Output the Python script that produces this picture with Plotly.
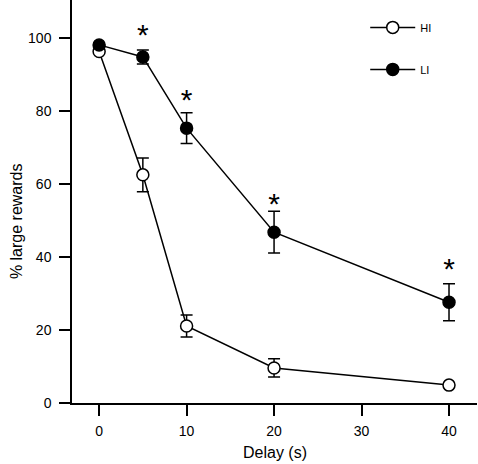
import plotly.graph_objects as go

delay = [0, 5, 10, 20, 40]
hi_vals = [96.3, 62.5, 21.1, 9.6, 4.9]
hi_err = [0, 4.6, 3.0, 2.5, 0]
li_vals = [98.1, 94.8, 75.3, 46.8, 27.6]
li_err = [0, 1.9, 4.2, 5.7, 5.1]
star_x = [5, 10, 20, 40]
star_y = [100.0, 82.2, 53.8, 35.9]
x_ticks = [0, 10, 20, 30, 40]
y_ticks = [0, 20, 40, 60, 80, 100]
x_title = "Delay (s)"
y_title = "% large rewards"

FONT = "Liberation Sans, Arial, Helvetica, sans-serif"


def f(size):
    return dict(family=FONT, size=size, color="black")


fig = go.Figure()
fig.add_trace(go.Scatter(
    x=delay, y=hi_vals, name="HI", mode="lines+markers",
    line=dict(color="black", width=1.5),
    marker=dict(symbol="circle", size=12, color="white", line=dict(color="black", width=1.5)),
    error_y=dict(type="data", array=hi_err, visible=True, color="black", thickness=1.5, width=6),
    legendgroup="a",
))
fig.add_trace(go.Scatter(
    x=delay, y=li_vals, name="LI", mode="lines+markers",
    line=dict(color="black", width=1.5),
    marker=dict(symbol="circle", size=12, color="black", line=dict(color="black", width=1.5)),
    error_y=dict(type="data", array=li_err, visible=True, color="black", thickness=1.5, width=6),
    legendgroup="b",
))
fig.add_trace(go.Scatter(
    x=star_x, y=star_y, mode="text", text=["*"] * len(star_x),
    textfont=f(30),
    textposition="middle center", showlegend=False, hoverinfo="skip",
))

fig.update_layout(
    width=478, height=464,
    margin=dict(l=72, r=1, t=0, b=61, autoexpand=False),
    plot_bgcolor="white", paper_bgcolor="white",
    font=f(14),
    showlegend=True,
    legend=dict(x=0.724, y=0.968, xanchor="left", yanchor="top",
                font=f(11), tracegroupgap=23, traceorder="grouped",
                itemwidth=45,
                bgcolor="rgba(0,0,0,0)"),
    xaxis=dict(range=[-3.1, 43.2], tickvals=x_ticks, ticks="outside", ticklen=11,
               tickwidth=1.5, tickcolor="black", showline=True, linecolor="black", linewidth=1.5,
               showgrid=False, zeroline=False, automargin=False, ticklabelstandoff=3,
               tickfont=f(14)),
    yaxis=dict(range=[0, 110.4], tickvals=y_ticks, ticks="outside", ticklen=11,
               tickwidth=1.5, tickcolor="black", showline=True, linecolor="black", linewidth=1.5,
               showgrid=False, zeroline=False, automargin=False, ticklabelstandoff=5,
               tickfont=f(14)),
    annotations=[
        dict(text=x_title, xref="paper", yref="paper", x=0.5, y=-0.1216,
             xanchor="center", yanchor="middle", showarrow=False, font=f(16)),
        dict(text=y_title, xref="paper", yref="paper", x=-0.138, y=0.4516,
             xanchor="center", yanchor="middle", textangle=-90, showarrow=False, font=f(16)),
    ],
)

fig.write_html("out.html", config={"displayModeBar": False},
               post_script="document.body.style.margin='0';document.body.style.padding='0';")
